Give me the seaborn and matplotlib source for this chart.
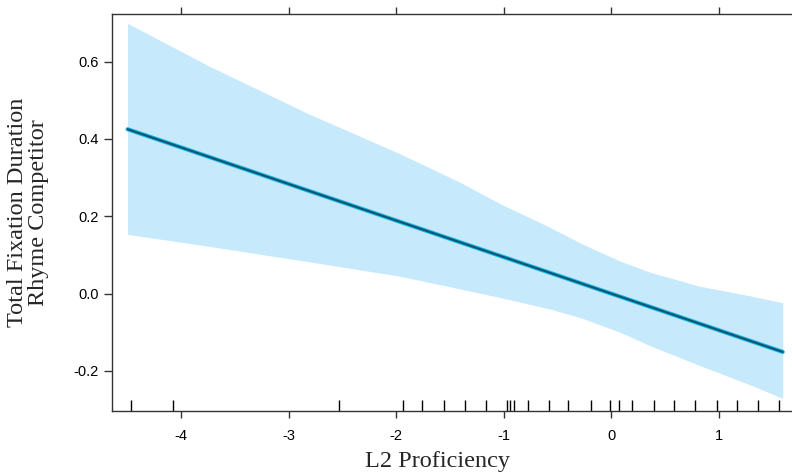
import numpy as np
import pandas as pd
import matplotlib
matplotlib.use("Agg")
import matplotlib.pyplot as plt
import seaborn as sns

# fitted effect of L2 proficiency
fit_x = [-4.50, 1.594]
fit_y = [0.425, -0.151]

# confidence band
band_x = [-4.50, -3.74, -2.81, -1.97, -1.41, -1.04, -0.57, -0.27, 0.08, 0.36, 0.82, 1.29, 1.594]
band_hi = [0.699, 0.588, 0.464, 0.362, 0.288, 0.233, 0.171, 0.128, 0.084, 0.055, 0.019, -0.006, -0.024]
band_lo = [0.153, 0.122, 0.082, 0.045, 0.012, -0.010, -0.040, -0.064, -0.100, -0.135, -0.186, -0.236, -0.271]

# observed proficiency values (rug)
rug_x = [-4.47, -4.08, -2.53, -1.94, -1.76, -1.56, -1.36, -1.17, -0.97, -0.94, -0.91,
         -0.78, -0.58, -0.40, -0.19, -0.01, 0.07, 0.19, 0.40, 0.58, 0.78, 0.98,
         1.17, 1.36, 1.56]

x_ticks = [-4, -3, -2, -1, 0, 1]
y_ticks = [-0.2, 0.0, 0.2, 0.4, 0.6]

sns.set_style("ticks")
plt.rcParams["font.family"] = ["Liberation Sans", "DejaVu Sans"]
plt.rcParams["axes.unicode_minus"] = False

fig = plt.figure(figsize=(7.92, 4.75), dpi=100)
ax = fig.add_axes([0.1414, 0.1354, 0.8586, 0.8351])

ax.fill_between(band_x, band_lo, band_hi, color="#c6e9fb", lw=0)

fit = pd.DataFrame({"x": fit_x, "y": fit_y})
sns.lineplot(data=fit, x="x", y="y", color="#19b6e0", lw=3.0, ax=ax)
sns.lineplot(data=fit, x="x", y="y", color="#0a5575", lw=1.5, ax=ax)

sns.rugplot(x=rug_x, height=0.028, color="black", lw=2.2, ax=ax)

ax.set_xlim(-4.645, 1.68)
ax.set_ylim(-0.303, 0.723)
ax.set_xticks(x_ticks)
ax.set_xticklabels([str(t) for t in x_ticks])
ax.set_yticks(y_ticks)
ax.set_yticklabels([f"{t:.1f}" for t in y_ticks])

for s in ["left", "bottom", "top"]:
    ax.spines[s].set_color("#333333")
    ax.spines[s].set_linewidth(1.0)
ax.spines["right"].set_visible(False)

ax.tick_params(axis="y", direction="out", length=6, width=1, labelsize=10.5, colors="#333333", labelcolor="black")
ax.tick_params(axis="x", direction="out", length=5, width=1, labelsize=10.5, top=True, labeltop=False,
               colors="#333333", labelcolor="black", pad=8)

ax.set_xlabel("L2 Proficiency", fontsize=17.5, family="Liberation Serif", va="center")
ax.xaxis.set_label_coords(0.478, -0.129)
ax.set_ylabel("Total Fixation Duration\nRhyme Competitor", fontsize=17.5, family="Liberation Serif",
              va="center", linespacing=1.0)
ax.yaxis.set_label_coords(-0.124, 0.5)

fig.savefig("out.png", dpi=100)
